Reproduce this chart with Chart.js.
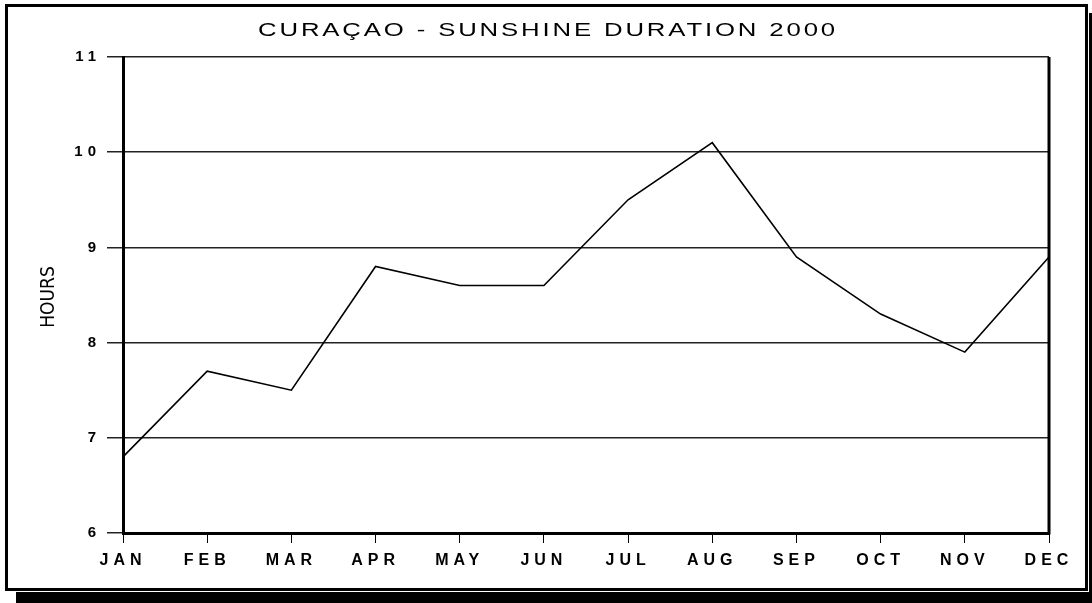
<!DOCTYPE html>
<html>
<head>
<meta charset="utf-8">
<script src="https://cdn.jsdelivr.net/npm/chart.js@4.4.1/dist/chart.umd.min.js"></script>
<style>
  html, body { margin: 0; padding: 0; background: #fff; }
  body { width: 1092px; height: 603px; position: relative; overflow: hidden; }
  #shadow { position: absolute; left: 16px; top: 13px; right: 0; bottom: 0; background: #000; }
  #frame { position: absolute; left: 5px; top: 4px; width: 1083px; height: 587px; box-sizing: border-box;
           border: 3px solid #000; background: #fff; outline: 1px solid #fff; }
  #chart { position: absolute; left: 0; top: 0; }
</style>
</head>
<body>
<div id="shadow"></div>
<div id="frame"></div>
<canvas id="chart" width="1092" height="603"></canvas>
<script>
// Chart data
const chartTitle = 'CURAÇAO - SUNSHINE DURATION 2000';
const yAxisTitle = 'HOURS';
const months = ['JAN', 'FEB', 'MAR', 'APR', 'MAY', 'JUN', 'JUL', 'AUG', 'SEP', 'OCT', 'NOV', 'DEC'];
const sunshineHours = [6.8, 7.7, 7.5, 8.8, 8.6, 8.6, 9.5, 10.1, 8.9, 8.3, 7.9, 8.9];
const yTicks = [6, 7, 8, 9, 10, 11];

const tickFont = { family: '"Liberation Sans", Arial, sans-serif', size: 16, weight: 'bold' };

// wide letter spacing for the tick labels
const spacing = {
    id: 'spacing',
    beforeLayout(chart) { chart.ctx.letterSpacing = '5px'; },
    beforeDraw(chart) { chart.ctx.letterSpacing = '5px'; }
};

// title, axis label and right frame line
const frameText = {
    id: 'frameText',
    afterDraw(chart) {
        const ctx = chart.ctx;
        const area = chart.chartArea;

        ctx.save();
        ctx.strokeStyle = '#000';
        ctx.lineWidth = 3;
        ctx.beginPath();
        ctx.moveTo(area.right, area.top);
        ctx.lineTo(area.right, area.bottom + 1.5);
        ctx.stroke();
        ctx.restore();

        ctx.save();
        ctx.fillStyle = '#000';
        ctx.letterSpacing = '2px';
        ctx.font = '18px "Liberation Sans", Arial, sans-serif';
        const w = ctx.measureText(chartTitle).width;
        ctx.translate(548, 31);
        ctx.scale(580 / w, 1);
        ctx.textAlign = 'center';
        ctx.textBaseline = 'middle';
        ctx.fillText(chartTitle, 0, 0);
        ctx.restore();

        ctx.save();
        ctx.fillStyle = '#000';
        ctx.letterSpacing = '0px';
        ctx.font = '19px "Liberation Sans Narrow", "DejaVu Sans Condensed", sans-serif';
        ctx.translate(49, (area.top + area.bottom) / 2 + 2);
        ctx.rotate(-Math.PI / 2);
        ctx.textAlign = 'center';
        ctx.textBaseline = 'middle';
        ctx.fillText(yAxisTitle, 0, 0);
        ctx.restore();
    }
};

const ctx = document.getElementById('chart').getContext('2d');
const sunChart = new Chart(ctx, {
    type: 'line',
    data: {
        labels: months,
        datasets: [{
            data: sunshineHours,
            borderColor: '#000',
            borderWidth: 1.6,
            pointRadius: 0,
            tension: 0,
            fill: false
        }]
    },
    options: {
        responsive: false,
        animation: false,
        layout: { padding: { left: 0, right: 43, top: 57, bottom: 0 } },
        plugins: {
            legend: { display: false },
            title: { display: false },
            tooltip: { enabled: false }
        },
        scales: {
            x: {
                offset: false,
                grid: { drawOnChartArea: false, drawTicks: true, tickLength: 10, color: '#000', lineWidth: 1 },
                border: { display: true, color: '#000', width: 3 },
                ticks: { color: '#000', font: tickFont, padding: 8, maxRotation: 0, autoSkip: false },
                afterFit(scale) { scale.height = 70; }
            },
            y: {
                min: yTicks[0],
                max: yTicks[yTicks.length - 1],
                grid: { color: '#222', lineWidth: 1.5, tickLength: 16 },
                border: { display: true, color: '#000', width: 3 },
                ticks: { stepSize: 1, color: '#000', font: { ...tickFont, size: 15 }, padding: 6 },
                afterFit(scale) { scale.width = 123; }
            }
        }
    },
    plugins: [spacing, frameText]
});
</script>
</body>
</html>
